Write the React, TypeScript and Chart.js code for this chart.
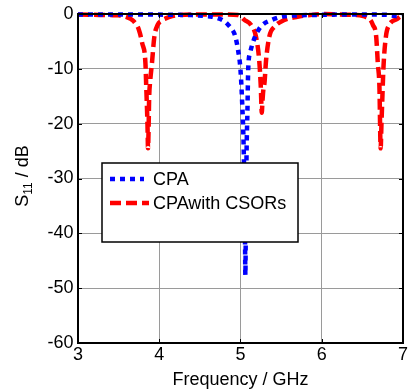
import React, { useEffect, useRef } from "react";
import { Chart, registerables } from "chart.js";

Chart.register(...registerables);

// ---- data ----
const cpaFreq = [3.0, 3.3, 3.6, 3.9, 4.2, 4.4, 4.55, 4.65, 4.73, 4.8, 4.85, 4.9, 4.93, 4.97, 5.0, 5.02, 5.04, 5.055, 5.06, 5.065, 5.075, 5.085, 5.095, 5.12, 5.15, 5.21, 5.27, 5.38, 5.5, 5.7, 6.0, 6.3, 6.6, 6.8, 6.88, 6.93, 6.97, 7.0];
const cpaS11 = [-0.1, -0.1, -0.1, -0.1, -0.15, -0.2, -0.35, -0.5, -0.8, -1.3, -2.0, -2.9, -3.8, -6.6, -10.2, -16, -25, -40, -47.6, -40, -25, -18, -10, -7, -5.3, -3.2, -2.0, -1.1, -0.5, -0.25, -0.15, -0.1, -0.1, -0.15, -0.3, -0.4, -0.3, -0.2];

const csorFreq = [3.0, 3.2, 3.4, 3.5, 3.59, 3.65, 3.69, 3.75, 3.79, 3.83, 3.84, 3.855, 3.862, 3.87, 3.875, 3.89, 3.91, 3.94, 3.98, 4.03, 4.08, 4.16, 4.24, 4.5, 4.8, 4.97, 5.05, 5.13, 5.19, 5.23, 5.25, 5.262, 5.27, 5.28, 5.295, 5.315, 5.355, 5.42, 5.54, 5.7, 5.85, 6.02, 6.2, 6.43, 6.5, 6.55, 6.6, 6.63, 6.67, 6.69, 6.71, 6.725, 6.735, 6.745, 6.76, 6.79, 6.83, 6.87, 6.9, 6.93, 6.96, 7.0];
const csorS11 = [-0.1, -0.15, -0.2, -0.25, -0.5, -0.9, -1.4, -2.9, -5.3, -9, -13.3, -20, -24.5, -20, -15.7, -12, -9, -4.1, -2, -1.2, -0.8, -0.4, -0.2, -0.1, -0.1, -0.2, -1.1, -2, -4.1, -8.4, -13.3, -18, -16, -14, -12.6, -8.4, -4.1, -2.3, -1.1, -0.5, -0.2, 0, -0.1, -0.2, -0.35, -0.6, -1.1, -2, -4.1, -9, -13.3, -24.5, -20, -15.7, -9.6, -4.1, -2, -1.3, -1.1, -0.9, -0.5, -0.2];

const seriesNames = ["CPA", "CPAwith CSORs"];
const xTitle = "Frequency / GHz";
const yTitleMain = "S";
const yTitleSub = "11";
const yTitleRest = " / dB";

const FONT = 'Arial, "Liberation Sans", sans-serif';

const framePlugin = {
  id: "frame",
  afterDatasetsDraw(chart: any) {
    const ctx = chart.ctx;
    const a = chart.chartArea;
    const xs = chart.scales.x;
    const ys = chart.scales.y;
    ctx.save();
    // legend box
    const lx = 102, ly = 163, lw = 196, lh = 79;
    ctx.fillStyle = "#fff";
    ctx.fillRect(lx, ly, lw, lh);
    ctx.strokeStyle = "#000";
    ctx.lineWidth = 1.5;
    ctx.strokeRect(lx, ly, lw, lh);
    // samples
    ctx.lineWidth = 4.5;
    ctx.lineCap = "butt";
    ctx.strokeStyle = "#0000ff";
    ctx.setLineDash([5, 5]);
    ctx.beginPath();
    ctx.moveTo(110, 179);
    ctx.lineTo(144, 179);
    ctx.stroke();
    ctx.strokeStyle = "#ff0000";
    ctx.setLineDash([11, 5]);
    ctx.beginPath();
    ctx.moveTo(110, 203);
    ctx.lineTo(149, 203);
    ctx.stroke();
    ctx.setLineDash([]);
    ctx.fillStyle = "#000";
    ctx.font = `18px ${FONT}`;
    ctx.textAlign = "left";
    ctx.textBaseline = "middle";
    ctx.fillText(seriesNames[0], 153, 180);
    ctx.fillText(seriesNames[1], 153, 204);

    // frame
    ctx.strokeStyle = "#000";
    ctx.lineWidth = 2;
    ctx.strokeRect(a.left, a.top, a.right - a.left, a.bottom - a.top);
    // inner ticks
    ctx.lineWidth = 1;
    const tl = 4;
    ctx.beginPath();
    xs.ticks.forEach((t: any) => {
      const px = Math.round(xs.getPixelForValue(t.value)) + 0.5;
      ctx.moveTo(px, a.bottom);
      ctx.lineTo(px, a.bottom - tl);
      ctx.moveTo(px, a.top);
      ctx.lineTo(px, a.top + tl);
    });
    ys.ticks.forEach((t: any) => {
      const py = Math.round(ys.getPixelForValue(t.value)) + 0.5;
      ctx.moveTo(a.left, py);
      ctx.lineTo(a.left + tl, py);
      ctx.moveTo(a.right, py);
      ctx.lineTo(a.right - tl, py);
    });
    ctx.stroke();

    // y title with subscript
    ctx.translate(22, 176);
    ctx.rotate(-Math.PI / 2);
    const big = `18px ${FONT}`;
    const small = `12px ${FONT}`;
    ctx.font = big;
    const w1 = ctx.measureText(yTitleMain).width;
    const w3 = ctx.measureText(yTitleRest).width;
    ctx.font = small;
    const w2 = ctx.measureText(yTitleSub).width;
    let x0 = -(w1 + w2 + w3) / 2;
    ctx.textBaseline = "alphabetic";
    ctx.font = big;
    ctx.fillText(yTitleMain, x0, 6);
    x0 += w1;
    ctx.font = small;
    ctx.fillText(yTitleSub, x0, 10);
    x0 += w2;
    ctx.font = big;
    ctx.fillText(yTitleRest, x0, 6);
    ctx.restore();
  },
};

export default function App() {
  const ref = useRef<HTMLCanvasElement>(null);
  useEffect(() => {
    document.body.style.margin = "0";
    const chart = new Chart(ref.current as HTMLCanvasElement, {
      type: "scatter",
      data: {
        datasets: [
          {
            label: seriesNames[0],
            data: cpaFreq.map((f, i) => ({ x: f, y: cpaS11[i] })),
            showLine: true,
            borderColor: "#0000ff",
            borderWidth: 4.5,
            borderDash: [5, 5],
            borderCapStyle: "butt",
            pointRadius: 0,
            cubicInterpolationMode: "monotone",
            clip: 4,
          },
          {
            label: seriesNames[1],
            data: csorFreq.map((f, i) => ({ x: f, y: csorS11[i] })),
            showLine: true,
            borderColor: "#ff0000",
            borderWidth: 4.5,
            borderDash: [11, 5],
            borderCapStyle: "butt",
            pointRadius: 0,
            cubicInterpolationMode: "monotone",
            clip: 4,
          },
        ],
      },
      options: {
        animation: false,
        responsive: false,
        maintainAspectRatio: false,
        layout: { padding: { top: 14, right: 4, left: 0, bottom: 2 } },
        plugins: { legend: { display: false }, tooltip: { enabled: false } },
        scales: {
          x: {
            type: "linear",
            min: 3,
            max: 7,
            ticks: {
              stepSize: 1,
              color: "#000",
              font: { family: FONT, size: 18, lineHeight: 1 },
              padding: 3,
              maxRotation: 0,
            },
            grid: { color: "#9a9a9a", lineWidth: 1, drawTicks: false },
            border: { color: "#000", width: 2 },
            title: {
              display: true,
              text: xTitle,
              color: "#000",
              font: { family: FONT, size: 18, lineHeight: 1 },
              padding: { top: 0, bottom: 1 },
            },
            afterFit(scale: any) {
              scale.height = 47;
            },
          },
          y: {
            type: "linear",
            min: -60,
            max: 0,
            ticks: {
              stepSize: 10,
              color: "#000",
              font: { family: FONT, size: 18, lineHeight: 1 },
              padding: 4.5,
            },
            grid: { color: "#9a9a9a", lineWidth: 1, drawTicks: false },
            border: { color: "#000", width: 2 },
            afterFit(scale: any) {
              scale.width = 78;
            },
          },
        },
      },
      plugins: [framePlugin],
    });
    return () => chart.destroy();
  }, []);
  return (
    <div style={{ width: 411, height: 392, background: "#fff" }}>
      <canvas ref={ref} width={411} height={392} style={{ display: "block" }} />
    </div>
  );
}
